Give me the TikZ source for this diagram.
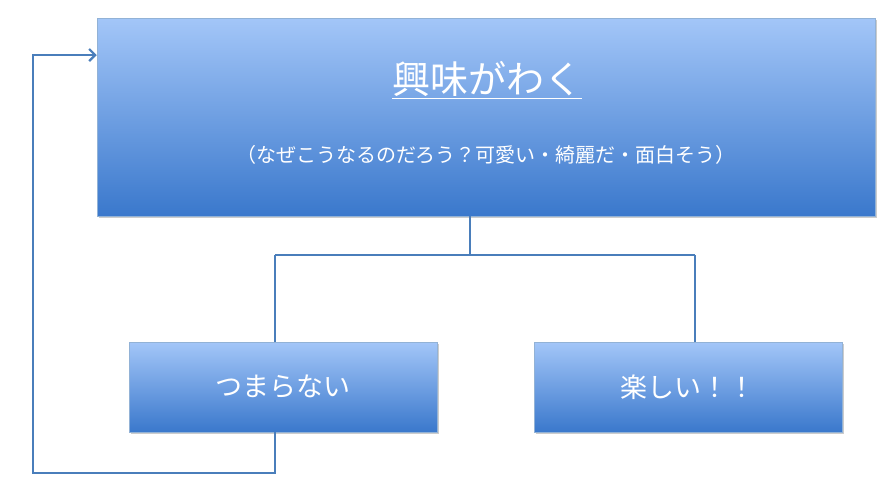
\documentclass[tikz,border=0pt]{standalone}
\usepackage{fontspec}
\newfontfamily\cjk{Noto Sans CJK JP}
\usetikzlibrary{arrows.meta,shadows}
\definecolor{topc}{HTML}{A3C6F8}
\definecolor{botc}{HTML}{3A78CC}
\definecolor{linec}{HTML}{4A7EBB}
\tikzset{
  boxstyle/.style={draw=linec!60, line width=0.5pt, top color=topc, bottom color=botc,
    drop shadow={opacity=0.4, shadow xshift=2pt, shadow yshift=-2pt}, inner sep=0pt},
  conn/.style={draw=linec, line width=2.2pt},
  txt/.style={text=white, font=\cjk}
}
\begin{document}
\begin{tikzpicture}[x=1pt,y=-1pt]
\useasboundingbox (0,0) rectangle (886,490);
\node[boxstyle, minimum width=778pt, minimum height=198pt] (top) at (486,117) {};
\node[txt, font=\cjk\fontsize{38}{40}\selectfont] (title) at (487,80) {\underline{興味がわく}};
\node[txt, font=\cjk\fontsize{20}{22}\selectfont] (sub) at (486,155) {（なぜこうなるのだろう？可愛い・綺麗だ・面白そう）};
\node[boxstyle, minimum width=308pt, minimum height=90pt] (left) at (283,387) {};
\node[txt, font=\cjk\fontsize{27}{30}\selectfont] (lt) at (283,387) {つまらない};
\node[boxstyle, minimum width=308pt, minimum height=90pt] (right) at (688,387) {};
\node[txt, font=\cjk\fontsize{27}{30}\selectfont] (rt) at (688,387) {楽しい！！};
\coordinate (j) at (470,255);
\draw[conn] (top.south -| j) -- (j);
\draw[conn] (275,255) -- (695,255);
\draw[conn] (275,255) -- (275,342);
\draw[conn] (695,255) -- (695,342);
\coordinate (l1) at (275,473);
\coordinate (l2) at (33,473);
\coordinate (l3) at (33,55);
\draw[conn, -{Straight Barb[length=6pt,width=12pt]}] (275,432) -- (l1) -- (l2) -- (l3) -- (top.west |- l3);
\end{tikzpicture}
\end{document}
